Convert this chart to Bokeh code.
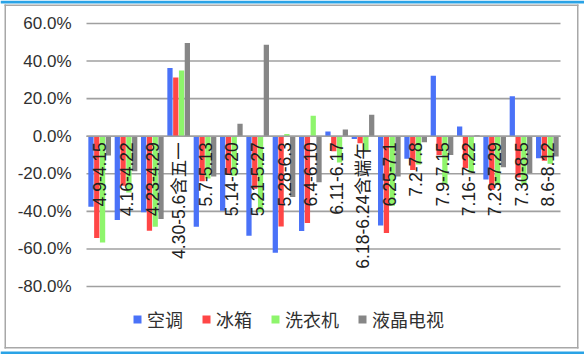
from bokeh.plotting import figure
from bokeh.models import (Range1d, ColumnDataSource, Legend, LegendItem, BoxAnnotation)
from bokeh.core.properties import value
from bokeh.embed import file_html
from bokeh.resources import INLINE
import math

categories = ["4.9-4.15", "4.16-4.22", "4.23-4.29", "4.30-5.6含五一", "5.7-5.13", "5.14-5.20",
              "5.21-5.27", "5.28-6.3", "6.4-6.10", "6.11-6.17", "6.18-6.24含端午", "6.25-7.1",
              "7.2-7.8", "7.9-7.15", "7.16-7.22", "7.23-7.29", "7.30-8.5", "8.6-8.12"]

series_names = ["空调", "冰箱", "洗衣机", "液晶电视"]

ac = [-37.5, -44.6, -40.5, 36.3, -48.2, -39.6, -53.0, -62.0, -50.5, 2.5, -1.5, -47.5,
      -12.0, 32.2, 5.2, -23.0, 21.3, -11.7]
fridge = [-54.2, -26.3, -50.3, 31.3, -24.0, -20.0, -28.0, -48.0, -46.2, -8.0, -3.7, -51.5,
          -18.0, -10.0, -17.0, -28.6, -22.0, -13.0]
washer = [-56.5, -30.0, -48.2, 34.9, -22.5, -21.0, -40.5, 1.2, 10.9, -14.0, -7.6, -37.0,
          -15.0, -25.5, -19.5, -26.0, -26.0, -14.7]
lcd_tv = [-10.3, -18.7, -44.0, 49.6, -21.5, 6.6, 48.7, -32.3, -24.5, 3.6, 11.4, -21.5,
          -3.2, -10.0, 0.5, -16.5, -19.7, -10.8]

y_ticks = [-0.8, -0.6, -0.4, -0.2, 0.0, 0.2, 0.4, 0.6]
y_tick_labels = ["-80.0%", "-60.0%", "-40.0%", "-20.0%", "0.0%", "20.0%", "40.0%", "60.0%"]

colors = ["#4a72f8", "#ff4646", "#8ef56c", "#868686"]
all_series = [ac, fridge, washer, lcd_tv]

W, H = 584, 354
n = len(categories)
# plot area spans 86..560 px horizontally, value 0.605..-0.805 spans 22..287 px vertically
px_per_cat = (560 - 86) / n
px_per_unit = 265 / 1.41
x_start = -0.5 - 86 / px_per_cat
x_end = n - 0.5 + (W - 560) / px_per_cat
y_top = 0.605 + 22 / px_per_unit
y_bot = 0.605 - (H - 22) / px_per_unit

p = figure(width=W, height=H, output_backend="svg", toolbar_location=None,
           x_range=Range1d(x_start, x_end), y_range=Range1d(y_bot, y_top),
           min_border=0)
p.border_fill_color = "white"
p.background_fill_color = "white"
p.outline_line_color = None
p.xaxis.visible = False
p.yaxis.visible = False
p.grid.visible = False

# gridlines across the plot area
p.segment(x0=[-0.5] * len(y_ticks), x1=[n - 0.5] * len(y_ticks), y0=y_ticks, y1=y_ticks,
          line_color="#a0a0a0", line_width=1.6)

# y tick labels
p.text(x=[-0.5] * len(y_ticks), y=y_ticks, text=y_tick_labels, x_offset=-15,
       text_align="right", text_baseline="middle",
       text_font=value("Liberation Sans"), text_font_size="17px", text_color="#303030")

idx = list(range(n))
offsets = [-0.33, -0.11, 0.11, 0.33]
items = []
for name, vals, col, off in zip(series_names, all_series, colors, offsets):
    src = ColumnDataSource(dict(x=[i + off for i in idx], top=[v / 100.0 for v in vals]))
    r = p.vbar(x="x", top="top", bottom=0, width=0.2, source=src,
               fill_color=col, line_color=None)
    items.append(LegendItem(label=name, renderers=[r]))

# zero axis line on top of bars
p.segment(x0=[-0.5], x1=[n - 0.5], y0=[0], y1=[0], line_color="#a0a0a0", line_width=1.6)

lab_src = ColumnDataSource(dict(x=idx, y=[0] * n, t=categories))
p.text(x="x", y="y", text="t", source=lab_src, angle=math.pi / 2,
       text_align="right", text_baseline="middle", y_offset=6,
       text_font=value("Liberation Sans, Noto Sans CJK SC"), text_font_size="17.5px",
       text_color="#202020")

legend = Legend(items=items, orientation="horizontal", location=(132, 22),
                glyph_width=10, glyph_height=10, label_standoff=5, spacing=18,
                padding=0, margin=0, border_line_alpha=0, background_fill_alpha=0,
                label_text_font="Noto Sans CJK SC", label_text_font_size="18px",
                label_text_color="#303030")
p.add_layout(legend, "center")


def canvas_box(l, r, t, b, color):
    p.add_layout(BoxAnnotation(left=l, right=r, top=t, bottom=b,
                               left_units="canvas", right_units="canvas",
                               top_units="canvas", bottom_units="canvas",
                               fill_color=color, fill_alpha=1, line_alpha=0))


# chart frame (thin gray border) and blue accent bands at top and bottom
canvas_box(0, W, 0, 3, "#2aa3e6")
canvas_box(0, W, 351, H, "#2aa3e6")
canvas_box(4, 578, 4, 5.5, "#a8a8a8")
canvas_box(4, 578, 346.5, 348, "#a8a8a8")
canvas_box(4, 5.5, 4, 348, "#a8a8a8")
canvas_box(576.5, 578, 4, 348, "#a8a8a8")

open("out.html", "w").write(file_html(p, INLINE))
